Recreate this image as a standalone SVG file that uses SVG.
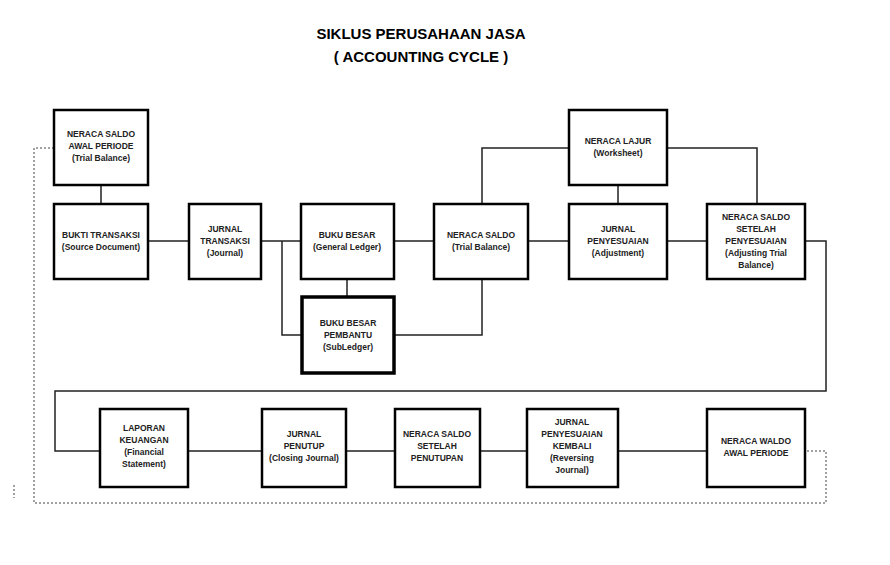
<svg xmlns="http://www.w3.org/2000/svg" width="890" height="565" viewBox="0 0 890 565">
<style>
.b{fill:#fff;stroke:#000;stroke-width:2.5}
.t{font-family:"Liberation Sans",Arial,sans-serif;font-size:8.5px;font-weight:bold;text-anchor:middle;fill:#222}
.h{font-family:"Liberation Sans",Arial,sans-serif;font-size:15px;font-weight:bold;text-anchor:middle}
.c{fill:none;stroke:#222;stroke-width:1.5}
.d{fill:none;stroke:#444;stroke-width:1;stroke-dasharray:2,2}
</style>
<rect width="890" height="565" fill="#fff"/>
<text class="h" x="421" y="39">SIKLUS PERUSAHAAN JASA</text>
<text class="h" x="421" y="62">( ACCOUNTING CYCLE )</text>
<g id="connectors">
<path class="c" d="M101 185V204M148 241H189M261 241H301M282 241V335H302M347 279V297M394 241H434M394 335H482V279M482 204V148H569M667 148H757V204M618 185V204M528 241H569M667 241H707M805 241H826V391H55V451H100M188 451H262M346 451H395M480 451H527M618 451H707"/>
<path class="d" d="M54 148H34V503H826V451H805M14 485V498"/>
</g>
<g id="n1"><rect class="b" x="54" y="110" width="94" height="75"/><text class="t" x="101" y="137">NERACA SALDO</text><text class="t" x="101" y="149">AWAL PERIODE</text><text class="t" x="101" y="161">(Trial Balance)</text></g>
<g id="n2"><rect class="b" x="54" y="204" width="94" height="75"/><text class="t" x="101" y="238">BUKTI TRANSAKSI</text><text class="t" x="101" y="250">(Source Document)</text></g>
<g id="n3"><rect class="b" x="189" y="204" width="72" height="75"/><text class="t" x="225" y="232">JURNAL</text><text class="t" x="225" y="244">TRANSAKSI</text><text class="t" x="225" y="256">(Journal)</text></g>
<g id="n4"><rect class="b" x="301" y="204" width="93" height="75"/><text class="t" x="347" y="238">BUKU BESAR</text><text class="t" x="347" y="250">(General Ledger)</text></g>
<g id="n5"><rect class="b" x="302" y="297" width="92" height="76" style="stroke-width:3.5"/><text class="t" x="348" y="326">BUKU BESAR</text><text class="t" x="348" y="338">PEMBANTU</text><text class="t" x="348" y="350">(SubLedger)</text></g>
<g id="n6"><rect class="b" x="434" y="204" width="94" height="75"/><text class="t" x="481" y="238">NERACA SALDO</text><text class="t" x="481" y="250">(Trial Balance)</text></g>
<g id="n7"><rect class="b" x="569" y="110" width="98" height="75"/><text class="t" x="618" y="144">NERACA LAJUR</text><text class="t" x="618" y="156">(Worksheet)</text></g>
<g id="n8"><rect class="b" x="569" y="204" width="98" height="75"/><text class="t" x="618" y="232">JURNAL</text><text class="t" x="618" y="244">PENYESUAIAN</text><text class="t" x="618" y="256">(Adjustment)</text></g>
<g id="n9"><rect class="b" x="707" y="204" width="98" height="75"/><text class="t" x="756" y="220">NERACA SALDO</text><text class="t" x="756" y="232">SETELAH</text><text class="t" x="756" y="244">PENYESUAIAN</text><text class="t" x="756" y="256">(Adjusting Trial</text><text class="t" x="756" y="268">Balance)</text></g>
<g id="n10"><rect class="b" x="100" y="409" width="88" height="78"/><text class="t" x="144" y="431">LAPORAN</text><text class="t" x="144" y="443">KEUANGAN</text><text class="t" x="144" y="455">(Financial</text><text class="t" x="144" y="467">Statement)</text></g>
<g id="n11"><rect class="b" x="262" y="409" width="84" height="78"/><text class="t" x="304" y="437">JURNAL</text><text class="t" x="304" y="449">PENUTUP</text><text class="t" x="304" y="461">(Closing Journal)</text></g>
<g id="n12"><rect class="b" x="395" y="409" width="85" height="78"/><text class="t" x="437" y="437">NERACA SALDO</text><text class="t" x="437" y="449">SETELAH</text><text class="t" x="437" y="461">PENUTUPAN</text></g>
<g id="n13"><rect class="b" x="527" y="409" width="91" height="78"/><text class="t" x="572" y="425">JURNAL</text><text class="t" x="572" y="437">PENYESUAIAN</text><text class="t" x="572" y="449">KEMBALI</text><text class="t" x="572" y="461">(Reversing</text><text class="t" x="572" y="473">Journal)</text></g>
<g id="n14"><rect class="b" x="707" y="409" width="98" height="78"/><text class="t" x="756" y="444">NERACA WALDO</text><text class="t" x="756" y="456">AWAL PERIODE</text></g>
</svg>
